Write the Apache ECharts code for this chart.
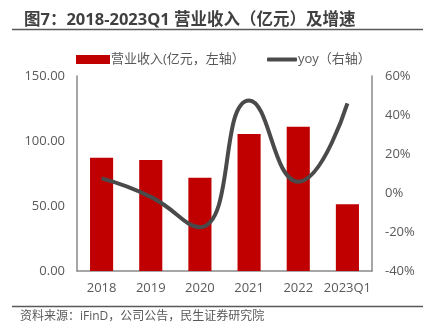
<!DOCTYPE html>
<html><head><meta charset="utf-8">
<script src="https://cdn.jsdelivr.net/npm/echarts@6/dist/echarts.min.js"></script>
<style>html,body{margin:0;padding:0;background:#fff}#c{width:440px;height:328px}</style>
</head><body><div id="c"></div>
<script>
const categories = ['2018','2019','2020','2021','2022','2023Q1'];
const revenue = [87.2, 85.4, 71.8, 105.4, 111.0, 51.3];
const yoy = [7.5, -2.0, -17.5, 47.5, 5.8, 46.0];
const leftTicks = {min: 0, max: 150, interval: 50};
const rightTicks = {min: -40, max: 60, interval: 20};
const titleText = '图7：2018-2023Q1 营业收入（亿元）及增速';
const sourceText = '资料来源：iFinD，公司公告，民生证券研究院';
const revName = '营业收入(亿元，左轴）';
const yoyName = 'yoy（右轴）';

const font = '"Open Sans", "Noto Sans CJK SC", sans-serif';
const txt = '#595959';
const chart = echarts.init(document.getElementById('c'), null, {renderer: 'canvas'});
chart.setOption({
  animation: false,
  textStyle: {fontFamily: font},
  title: {
    text: titleText, left: 19, top: 7,
    textStyle: {fontFamily: font, fontSize: 16.5, fontWeight: 'bold', color: '#404040'}
  },
  graphic: [
    {type: 'line', shape: {x1: 12, y1: 29.5, x2: 423, y2: 29.5}, style: {stroke: '#595959', lineWidth: 1.5}},
    {type: 'line', shape: {x1: 12, y1: 306.5, x2: 423, y2: 306.5}, style: {stroke: '#595959', lineWidth: 1.5}},
    {type: 'text', left: 20, top: 311, style: {text: sourceText, fontFamily: font, fontSize: 12, fill: txt}}
  ],
  legend: [
    {
      left: 71, top: 48,
      itemWidth: 34, itemHeight: 9,
      textStyle: {fontFamily: font, fontSize: 13, color: txt, padding: [0,0,0,-4]},
      data: [{name: revName, icon: 'rect'}]
    },
    {
      left: 262, top: 48,
      itemWidth: 30, itemHeight: 4,
      textStyle: {fontFamily: font, fontSize: 13, color: txt, padding: [0,0,0,-4]},
      data: [{name: yoyName, icon: 'roundRect'}]
    }
  ],
  grid: {left: 77, right: 68, top: 76, bottom: 57, containLabel: false},
  xAxis: {
    type: 'category', data: categories,
    axisLine: {lineStyle: {color: '#898989', width: 1.5}},
    axisTick: {show: false},
    axisLabel: {color: txt, fontSize: 13, fontFamily: font, margin: 11, interval: 0}
  },
  yAxis: [
    {
      type: 'value', min: leftTicks.min, max: leftTicks.max, interval: leftTicks.interval,
      axisLine: {show: true, lineStyle: {color: '#898989', width: 1.5}},
      axisTick: {show: false}, splitLine: {show: false},
      axisLabel: {color: txt, fontSize: 13, fontFamily: font, margin: 12, formatter: v => v.toFixed(2)}
    },
    {
      type: 'value', min: rightTicks.min, max: rightTicks.max, interval: rightTicks.interval,
      axisLine: {show: true, lineStyle: {color: '#898989', width: 1.5}},
      axisTick: {show: false}, splitLine: {show: false},
      axisLabel: {color: txt, fontSize: 13, fontFamily: font, margin: 13, formatter: '{value}%'}
    }
  ],
  series: [
    {
      name: revName, type: 'bar', data: revenue, barWidth: '47%',
      itemStyle: {color: '#C00000'}
    },
    {
      name: yoyName, type: 'line', yAxisIndex: 1, data: yoy, smooth: 0.5,
      symbol: 'none', lineStyle: {color: '#4a4a4a', width: 4}, itemStyle: {color: '#4a4a4a'}
    }
  ]
});
</script></body></html>
